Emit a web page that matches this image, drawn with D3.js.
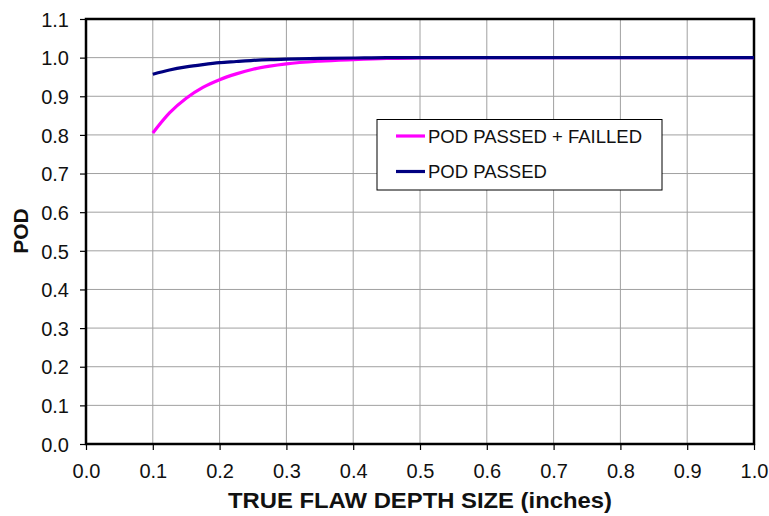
<!DOCTYPE html>
<html><head><meta charset="utf-8">
<script src="https://cdn.jsdelivr.net/npm/d3@7"></script>
<style>body{margin:0;background:#fff}svg{display:block;font-family:"Liberation Sans",Arial,sans-serif}</style>
</head><body><svg id="c" width="769" height="516"></svg>
<script>
const depth = [0.1,0.125,0.15,0.175,0.2,0.225,0.25,0.275,0.3,0.35,0.4,0.45,0.5,0.6,0.7,0.8,0.9,1.0];
const podPassedFailed = [0.805,0.857,0.895,0.923,0.943,0.958,0.970,0.978,0.984,0.991,0.995,0.998,0.999,1.0,1.0,1.0,1.0,1.0];
const podPassed = [0.957,0.968,0.976,0.982,0.987,0.990,0.993,0.995,0.996,0.998,0.999,1.0,1.0,1.0,1.0,1.0,1.0,1.0];
const xTicks = [0,0.1,0.2,0.3,0.4,0.5,0.6,0.7,0.8,0.9,1.0];
const yTicks = [0,0.1,0.2,0.3,0.4,0.5,0.6,0.7,0.8,0.9,1.0,1.1];
const seriesNames = ["POD PASSED + FAILLED","POD PASSED"];
const seriesColors = ["#ff00ff","#000080"];

const svg = d3.select("#c");
const L=86,R=754,T=19,B=444;
const x = d3.scaleLinear().domain([0,1]).range([L,R]);
const y = d3.scaleLinear().domain([0,1.1]).range([B,T]);

// grid
svg.append("g").selectAll("line").data(xTicks.slice(1,-1)).join("line")
  .attr("x1",d=>x(d)).attr("x2",d=>x(d)).attr("y1",T).attr("y2",B)
  .attr("stroke","#a0a0a0").attr("stroke-width",1);
svg.append("g").selectAll("line").data(yTicks.slice(1,-1)).join("line")
  .attr("y1",d=>y(d)).attr("y2",d=>y(d)).attr("x1",L).attr("x2",R)
  .attr("stroke","#a0a0a0").attr("stroke-width",1);

// axes
const fmt = d3.format(".1f");
const xAxis = svg.append("g").attr("transform",`translate(0,${B})`)
  .call(d3.axisBottom(x).tickValues(xTicks).tickFormat(fmt).tickSizeOuter(0).tickSize(6).tickPadding(14));
const yAxis = svg.append("g").attr("transform",`translate(${L},0)`)
  .call(d3.axisLeft(y).tickValues(yTicks).tickFormat(fmt).tickSizeOuter(0).tickSize(6).tickPadding(11));
[xAxis,yAxis].forEach(a=>{
  a.select(".domain").remove();
  a.selectAll("line").attr("stroke","#000").attr("stroke-width",1.2);
  a.selectAll("text").attr("font-size",20).attr("fill","#111").attr("font-family","Liberation Sans, Arial, sans-serif");
});
yAxis.selectAll("text").attr("dy","0.36em");

// frame
svg.append("rect").attr("x",L).attr("y",T).attr("width",R-L).attr("height",B-T)
  .attr("fill","none").attr("stroke","#000").attr("stroke-width",2.5);

// lines
const line = d3.line().x((d,i)=>x(depth[i])).y(d=>y(d)).curve(d3.curveMonotoneX);
[podPassedFailed,podPassed].forEach((s,k)=>{
  svg.append("path").datum(s).attr("d",line).attr("fill","none")
    .attr("stroke",seriesColors[k]).attr("stroke-width",3.2);
});

// legend
const lg = svg.append("g");
lg.append("rect").attr("x",377).attr("y",119.5).attr("width",285).attr("height",70.5)
  .attr("fill","#fff").attr("stroke","#000").attr("stroke-width",1);
seriesNames.forEach((n,i)=>{
  const yy = 136 + i*35.5;
  lg.append("line").attr("x1",396).attr("x2",425).attr("y1",yy).attr("y2",yy)
    .attr("stroke",seriesColors[i]).attr("stroke-width",3.2);
  lg.append("text").attr("x",428).attr("y",yy).attr("dy","0.36em").attr("font-size",18.5)
    .attr("fill","#111").text(n);
});

// titles
svg.append("text").attr("x",228).attr("y",508)
  .attr("font-size",22).attr("font-weight","bold").attr("fill","#111")
  .attr("textLength",384).attr("lengthAdjust","spacingAndGlyphs").text("TRUE FLAW DEPTH SIZE (inches)");
svg.append("text").attr("transform","translate(28,231) rotate(-90)").attr("text-anchor","middle")
  .attr("font-size",21).attr("font-weight","bold").attr("fill","#111").text("POD");
</script></body></html>
